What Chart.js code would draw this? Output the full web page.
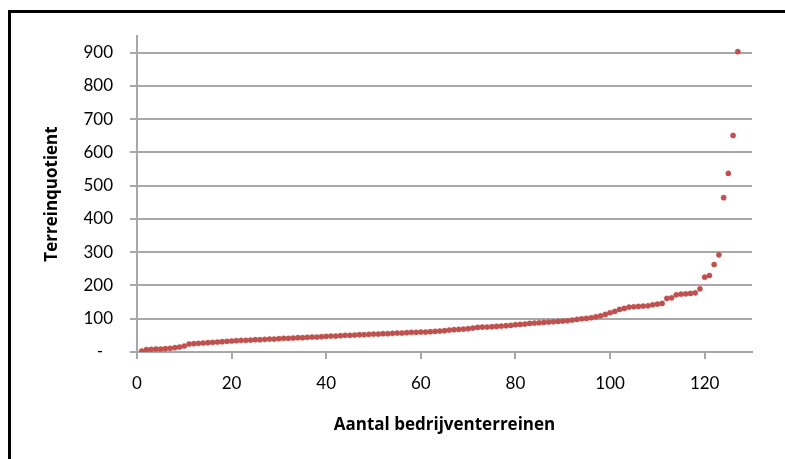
<!DOCTYPE html>
<html lang="nl">
<head>
<meta charset="utf-8">
<title>Terreinquotient per bedrijventerrein</title>
<script src="https://cdn.jsdelivr.net/npm/chart.js@4/dist/chart.umd.min.js"></script>
<style>
  html, body { margin: 0; padding: 0; background: #fff; overflow: hidden; }
  #stage { position: relative; width: 785px; height: 459px; overflow: hidden; }
  #frame {
    position: absolute; left: 8px; top: 10px; width: 900px; height: 600px;
    border: 3px solid #000; box-sizing: border-box;
  }
  #chart { position: absolute; left: 0; top: 0; }
</style>
</head>
<body>
<div id="stage">
  <div id="frame"></div>
  <canvas id="chart" width="785" height="459"></canvas>
</div>
<script>
// Terreinquotient per bedrijventerrein, sorted from low to high
const quotients = [
  3, 7, 8, 9, 9, 10, 11, 13, 15, 18,
  24, 25, 26, 27, 28, 29, 30, 31, 32, 33,
  34, 35, 35, 36, 37, 37, 38, 39, 39, 40,
  41, 41, 42, 43, 43, 44, 45, 45, 46, 47,
  48, 48, 49, 50, 50, 51, 52, 52, 53, 54,
  54, 55, 55, 56, 57, 57, 58, 59, 59, 60,
  60, 61, 62, 63, 64, 66, 67, 68, 69, 70,
  72, 74, 75, 75, 76, 77, 78, 79, 80, 82,
  83, 84, 86, 87, 88, 89, 90, 91, 92, 93,
  94, 96, 98, 100, 101, 103, 106, 109, 113, 118,
  122, 128, 131, 135, 136, 137, 138, 139, 142, 144,
  146, 161, 163, 172, 174, 175, 176, 178, 190, 225,
  230, 263, 292, 464, 537, 651, 903
];
// Rank number of each bedrijventerrein (1..n)
const terreinNumbers = quotients.map((_, i) => i + 1);

const xTitle = 'Aantal bedrijventerreinen';
const yTitle = 'Terreinquotient';

const points = terreinNumbers.map((n, i) => ({ x: n, y: quotients[i] }));

const gridGrey = '#a8a8a8';
const tickFont = { family: 'Lato', size: 17 };
const titleFont = { family: 'Open Sans', size: 17, weight: 'bold' };

new Chart(document.getElementById('chart'), {
  type: 'scatter',
  data: {
    datasets: [{
      data: points,
      pointStyle: 'circle',
      pointRadius: 2.6,
      pointHoverRadius: 2.6,
      backgroundColor: '#C0504D',
      borderColor: '#C0504D',
      borderWidth: 0.5
    }]
  },
  options: {
    responsive: false,
    animation: false,
    events: [],
    layout: { padding: { left: 0, top: 36, right: 33, bottom: 0 } },
    plugins: { legend: { display: false }, tooltip: { enabled: false } },
    scales: {
      x: {
        type: 'linear',
        min: 0,
        max: 130,
        afterFit: s => { s.height = 107; },
        border: { color: gridGrey, width: 2 },
        grid: { drawOnChartArea: false, drawTicks: true, tickLength: 7, color: gridGrey, lineWidth: 2 },
        ticks: { stepSize: 20, includeBounds: false, color: '#000', font: tickFont, padding: 14, maxRotation: 0 },
        title: { display: true, text: xTitle, color: '#000', font: titleFont, padding: { top: 0, bottom: 24 } }
      },
      y: {
        type: 'linear',
        min: 0,
        max: 950,
        afterFit: s => { s.width = 137; },
        border: { color: gridGrey, width: 2 },
        grid: { drawTicks: true, tickLength: 7, color: gridGrey, lineWidth: 2 },
        ticks: {
          stepSize: 100,
          includeBounds: false,
          color: '#000',
          font: tickFont,
          padding: 17,
          callback: v => (v === 0 ? '-\u2007' : String(v))
        },
        title: { display: true, text: yTitle, color: '#000', font: titleFont, padding: { top: 42, bottom: 0 } }
      }
    }
  }
});
</script>
</body>
</html>
